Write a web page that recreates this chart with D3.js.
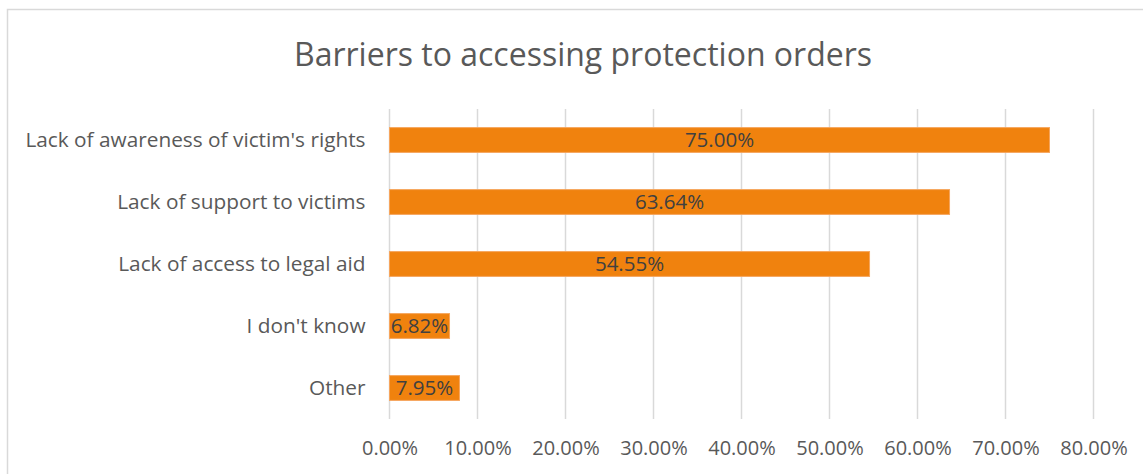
<!DOCTYPE html>
<html>
<head>
<meta charset="utf-8">
<script src="https://cdn.jsdelivr.net/npm/d3@7"></script>
<style>
  html, body { margin: 0; padding: 0; background: #fff; }
  svg { display: block; font-family: "Open Sans", sans-serif; }
</style>
</head>
<body>
<svg id="chart" width="1146" height="474"></svg>
<script>
// Survey responses: barriers to accessing protection orders (percent of respondents)
const categories = [
  "Lack of awareness of victim's rights",
  "Lack of support to victims",
  "Lack of access to legal aid",
  "I don't know",
  "Other"
];
const shares = [75.00, 63.64, 54.55, 6.82, 7.95];
const tickValues = [0, 10, 20, 30, 40, 50, 60, 70, 80];
const chartTitle = "Barriers to accessing protection orders";

const svg = d3.select("#chart");
const W = 1146, H = 474;

// Chart area frame
svg.append("path")
  .attr("d", `M7.5,${H} V9.5 H1143`)
  .attr("fill", "none")
  .attr("stroke", "#d9d9d9")
  .attr("stroke-width", 1.5);

svg.append("text")
  .attr("x", 583)
  .attr("y", 66)
  .attr("text-anchor", "middle")
  .attr("fill", "#595959")
  .attr("font-size", 32)
  .text(chartTitle);

const plot = { left: 389.5, right: 1093.5, top: 109, bottom: 419 };

const x = d3.scaleLinear()
  .domain([0, 80])
  .range([plot.left, plot.right]);

const y = d3.scaleBand()
  .domain(categories)
  .range([plot.top, plot.bottom])
  .paddingInner(0.6)
  .paddingOuter(0.3);

// Vertical gridlines
svg.append("g")
  .selectAll("line")
  .data(tickValues)
  .join("line")
  .attr("x1", d => x(d))
  .attr("x2", d => x(d))
  .attr("y1", plot.top)
  .attr("y2", plot.bottom)
  .attr("stroke", "#d9d9d9")
  .attr("stroke-width", 1.5);

// Bottom axis labels
const xAxis = d3.axisBottom(x)
  .tickValues(tickValues)
  .tickFormat(d => d3.format(".2f")(d) + "%")
  .tickSize(0)
  .tickPadding(0);

const gx = svg.append("g")
  .attr("transform", `translate(0,${plot.bottom + 22})`)
  .call(xAxis);
gx.select(".domain").remove();
gx.selectAll("text")
  .attr("font-family", "Open Sans, sans-serif")
  .attr("font-size", 20)
  .attr("fill", "#595959");

// Category labels
const yAxis = d3.axisLeft(y).tickSize(0).tickPadding(24);
const gy = svg.append("g")
  .attr("transform", `translate(${plot.left},0)`)
  .call(yAxis);
gy.select(".domain").remove();
gy.selectAll("text")
  .attr("font-family", "Open Sans, sans-serif")
  .attr("font-size", 20.8)
  .attr("fill", "#595959");

// Bars
const rows = categories.map((c, i) => ({ c, v: shares[i] }));
svg.append("g")
  .selectAll("rect")
  .data(rows)
  .join("rect")
  .attr("x", x(0))
  .attr("y", d => y(d.c))
  .attr("width", d => x(d.v) - x(0))
  .attr("height", y.bandwidth())
  .attr("fill", "#f0820e")
  .attr("stroke", "#f6a55c")
  .attr("stroke-width", 1);

// Value labels centred on each bar
svg.append("g")
  .selectAll("text")
  .data(rows)
  .join("text")
  .attr("x", d => (x(0) + x(d.v)) / 2)
  .attr("y", d => y(d.c) + y.bandwidth() / 2)
  .attr("dy", "0.36em")
  .attr("text-anchor", "middle")
  .attr("font-size", 20.5)
  .attr("fill", "#404040")
  .text(d => d3.format(".2f")(d.v) + "%");
</script>
</body>
</html>
